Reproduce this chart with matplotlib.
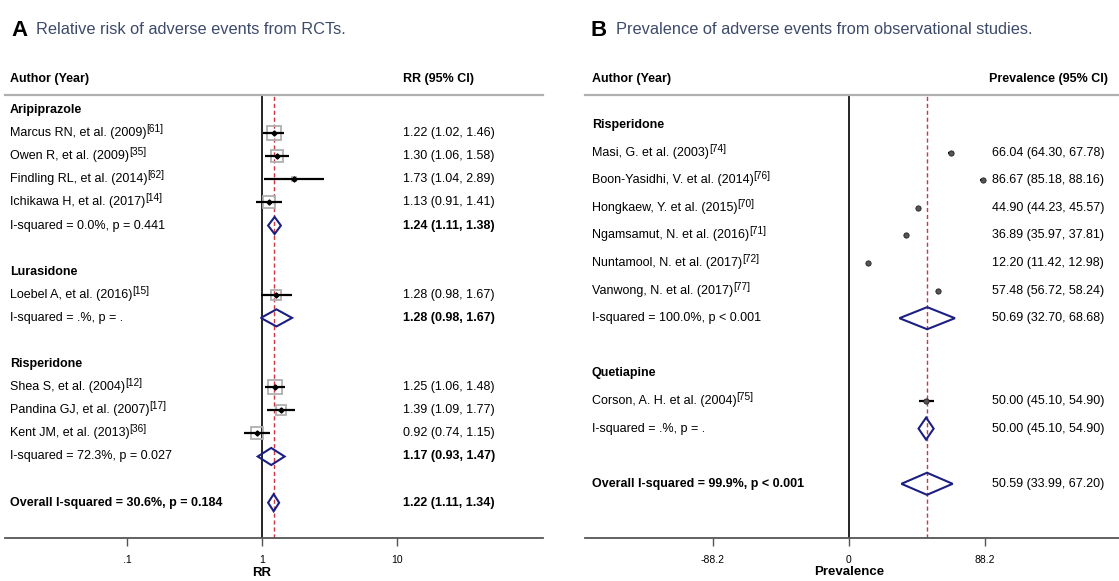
import matplotlib
matplotlib.use("Agg")
import matplotlib.pyplot as plt
import matplotlib.transforms as mtrans
from matplotlib.patches import Polygon
import numpy as np

plt.rcParams['font.family'] = ['Liberation Sans', 'DejaVu Sans']

# ---------------- panel A : RCTs, relative risk ----------------
a_group_names = ['Aripiprazole', 'Lurasidone', 'Risperidone']
a_labels = ['Marcus RN, et al. (2009)', 'Owen R, et al. (2009)', 'Findling RL, et al. (2014)',
            'Ichikawa H, et al. (2017)', 'Loebel A, et al. (2016)', 'Shea S, et al. (2004)',
            'Pandina GJ, et al. (2007)', 'Kent JM, et al. (2013)']
a_refs = ['61', '35', '62', '14', '15', '12', '17', '36']
a_group = [0, 0, 0, 0, 1, 2, 2, 2]
a_rr = [1.22, 1.30, 1.73, 1.13, 1.28, 1.25, 1.39, 0.92]
a_lo = [1.02, 1.06, 1.04, 0.91, 0.98, 1.06, 1.09, 0.74]
a_hi = [1.46, 1.58, 2.89, 1.41, 1.67, 1.48, 1.77, 1.15]
a_weight = [18, 15, 1, 15, 8, 18, 10, 15]
a_pool_text = ['I-squared = 0.0%, p = 0.441', 'I-squared = .%, p = .', 'I-squared = 72.3%, p = 0.027']
a_pool_rr = [1.24, 1.28, 1.17]
a_pool_lo = [1.11, 0.98, 0.93]
a_pool_hi = [1.38, 1.67, 1.47]
a_overall_text = 'Overall I-squared = 30.6%, p = 0.184'
a_overall = [1.22, 1.11, 1.34]
a_ticks = [0.1, 1, 10]
a_ticklabels = ['.1', '1', '10']

# ---------------- panel B : observational, prevalence ----------------
b_group_names = ['Risperidone', 'Quetiapine']
b_labels = ['Masi, G. et al. (2003)', 'Boon-Yasidhi, V. et al. (2014)', 'Hongkaew, Y. et al. (2015)',
            'Ngamsamut, N. et al. (2016)', 'Nuntamool, N. et al. (2017)', 'Vanwong, N. et al. (2017)',
            'Corson, A. H. et al. (2004)']
b_refs = ['74', '76', '70', '71', '72', '77', '75']
b_group = [0, 0, 0, 0, 0, 0, 1]
b_est = [66.04, 86.67, 44.90, 36.89, 12.20, 57.48, 50.00]
b_lo = [64.30, 85.18, 44.23, 35.97, 11.42, 56.72, 45.10]
b_hi = [67.78, 88.16, 45.57, 37.81, 12.98, 58.24, 54.90]
b_pool_text = ['I-squared = 100.0%, p < 0.001', 'I-squared = .%, p = .']
b_pool_est = [50.69, 50.00]
b_pool_lo = [32.70, 45.10]
b_pool_hi = [68.68, 54.90]
b_overall_text = 'Overall I-squared = 99.9%, p < 0.001'
b_overall = [50.59, 33.99, 67.20]
b_ticks = [-88.2, 0, 88.2]
b_ticklabels = ['-88.2', '0', '88.2']

W, H = 1119, 581
fig = plt.figure(figsize=(W / 100, H / 100), dpi=100)

NAVY = '#1c1f82'
RED = '#c83a40'
TITLE = '#3d4a6a'
FS = 9


def px_axes(x0, x1, ytop, ybot):
    return fig.add_axes([x0 / W, 1 - ybot / H, (x1 - x0) / W, (ybot - ytop) / H])


def layout(groups, n_groups):
    # row of each study, group header rows, pooled rows, overall row
    rows, heads, pools = {}, [], []
    r = 0
    for g in range(n_groups):
        heads.append(r)
        r += 1
        for i, gg in enumerate(groups):
            if gg == g:
                rows[i] = r
                r += 1
        pools.append(r)
        r += 2
    return [rows[i] for i in range(len(groups))], heads, pools, r


def diamond(ax, est, lo, hi, y, h):
    ax.add_patch(Polygon([(lo, y), (est, y - h), (hi, y), (est, y + h)], closed=True,
                         fill=False, edgecolor=NAVY, lw=1.5, zorder=4))


def fmt(e, l, h):
    return f'{e:.2f} ({l:.2f}, {h:.2f})'


def forest(ax, labels, refs, group, est, lo, hi, names, pool_text, pool_est, pool_lo, pool_hi,
           overall_text, overall, x_left, x_est, est_bold, dh, weight=None):
    rows, heads, pools, orow = layout(group, len(names))
    tr = mtrans.blended_transform_factory(fig.transFigure, ax.transData)
    for g, name in enumerate(names):
        ax.text(x_left / W, heads[g], name, transform=tr, fontsize=FS, fontweight='bold', va='center')
        ax.text(x_left / W, pools[g], pool_text[g], transform=tr, fontsize=FS, va='center')
        ax.text(x_est / W, pools[g], fmt(pool_est[g], pool_lo[g], pool_hi[g]), transform=tr,
                fontsize=FS, va='center', fontweight='bold' if est_bold else 'normal')
        diamond(ax, pool_est[g], pool_lo[g], pool_hi[g], pools[g], dh)
    for i, lab in enumerate(labels):
        y = rows[i]
        t = ax.text(x_left / W, y, lab, transform=tr, fontsize=FS, va='center')
        # reference number as superscript
        ax.annotate('[' + refs[i] + ']', xy=(1, 0.42), xycoords=t, fontsize=7.3, va='bottom')
        ax.text(x_est / W, y, fmt(est[i], lo[i], hi[i]), transform=tr, fontsize=FS, va='center')
        ax.plot([lo[i], hi[i]], [y, y], color='black', lw=1.6, zorder=3, solid_capstyle='butt')
        if weight is not None:
            ax.plot(est[i], y, marker='s', ms=2.3 * np.sqrt(weight[i]), mfc='none',
                    mec='#b0b0b0', mew=1.3, zorder=2)
            ax.plot(est[i], y, marker='D', ms=2.6, color='black', zorder=4)
        else:
            ax.plot(est[i], y, marker='o', ms=3.8, mfc='#555555', mec='#222222', mew=0.6, zorder=4)
    ax.text(x_left / W, orow, overall_text, transform=tr, fontsize=FS, fontweight='bold', va='center')
    ax.text(x_est / W, orow, fmt(*overall), transform=tr, fontsize=FS, va='center',
            fontweight='bold' if est_bold else 'normal')
    diamond(ax, overall[0], overall[1], overall[2], orow, dh)
    ax.axvline(overall[0], color=RED, lw=1.0, ls=(0, (3, 2)), zorder=1)


def style(ax, ticks, ticklabels):
    for s in ['left', 'right']:
        ax.spines[s].set_visible(False)
    ax.spines['top'].set_color('#b0b0b0')
    ax.spines['top'].set_linewidth(1.6)
    ax.spines['bottom'].set_color('#555555')
    ax.spines['bottom'].set_linewidth(1.3)
    ax.set_yticks([])
    ax.set_xticks(ticks)
    ax.set_xticklabels(ticklabels)
    ax.xaxis.set_minor_locator(matplotlib.ticker.NullLocator())
    ax.tick_params(axis='x', direction='out', length=6, width=1, color='#555555',
                   labelsize=7.5, pad=6)


# ---- panel A axes: 1 at x=262px, 135px per decade
axA = px_axes(5, 543, 95, 538)
axA.set_xscale('log')
axA.set_xlim(10 ** ((5 - 262) / 135), 10 ** ((543 - 262) / 135))
axA.set_ylim((538 - 110) / 23.1, -(110 - 95) / 23.1)
axA.axvline(1, color='black', lw=1.2, zorder=1)
forest(axA, a_labels, a_refs, a_group, a_rr, a_lo, a_hi, a_group_names, a_pool_text,
       a_pool_rr, a_pool_lo, a_pool_hi, a_overall_text, a_overall, 10, 403, True, 0.37,
       weight=a_weight)
style(axA, a_ticks, a_ticklabels)

# ---- panel B axes: 0 at x=849px, 1.542 px per unit
axB = px_axes(585, 1119, 95, 538)
axB.set_xlim((585 - 849) / 1.542, (1119 - 849) / 1.542)
axB.set_ylim((538 - 125) / 27.6, -(125 - 95) / 27.6)
axB.axvline(0, color='black', lw=1.2, zorder=1)
forest(axB, b_labels, b_refs, b_group, b_est, b_lo, b_hi, b_group_names, b_pool_text,
       b_pool_est, b_pool_lo, b_pool_hi, b_overall_text, b_overall, 592, 992, False, 0.4)
style(axB, b_ticks, b_ticklabels)

# ---- axis titles
fig.text(262 / W, 1 - 573 / H, 'RR', fontsize=9.5, fontweight='bold', ha='center', va='center')
fig.text(849 / W, 1 - 572 / H, 'Prevalence', fontsize=9.5, fontweight='bold', ha='center', va='center')

# ---- column headers
fig.text(10 / W, 1 - 79 / H, 'Author (Year)', fontsize=FS, fontweight='bold', va='center')
fig.text(403 / W, 1 - 79 / H, 'RR (95% CI)', fontsize=FS, fontweight='bold', va='center')
fig.text(592 / W, 1 - 79 / H, 'Author (Year)', fontsize=FS, fontweight='bold', va='center')
fig.text(1108 / W, 1 - 79 / H, 'Prevalence (95% CI)', fontsize=FS, fontweight='bold',
         va='center', ha='right')

# ---- panel titles
for x0, letter, title in [(11, 'A', '  Relative risk of adverse events from RCTs.'),
                          (591, 'B', '  Prevalence of adverse events from observational studies.')]:
    t = fig.text(x0 / W, 1 - 30 / H, letter, fontsize=16, fontweight='bold', va='center')
    plt.annotate(title, xy=(1, 0.5), xycoords=t, va='center', fontsize=11.8, color=TITLE)

fig.savefig('out.png', dpi=100)
